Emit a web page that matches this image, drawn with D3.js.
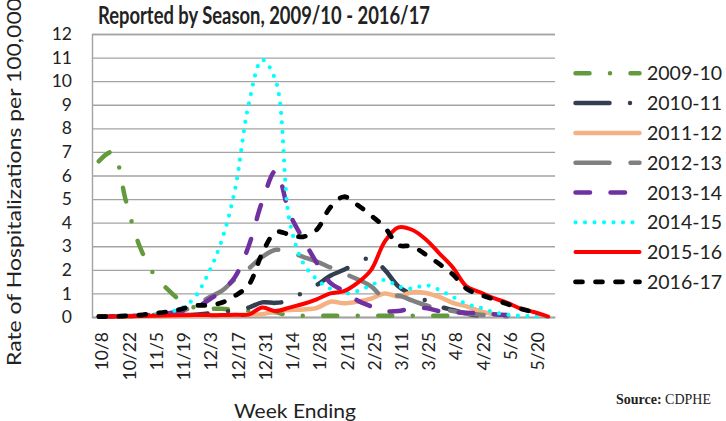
<!DOCTYPE html>
<html>
<head>
<meta charset="utf-8">
<script src="https://cdn.jsdelivr.net/npm/d3@7"></script>
<style>
  body { margin: 0; background: #fff; }
  text { font-family: Lato, "Open Sans", sans-serif; fill: #222; }
</style>
</head>
<body>
<div id="viz-container"></div>
<script>
// week ending dates (x categories)
let weeks = ["10/8","10/15","10/22","10/29","11/5","11/12","11/19","11/26","12/3","12/10",
  "12/17","12/24","12/31","1/7","1/14","1/21","1/28","2/4","2/11","2/18",
  "2/25","3/4","3/11","3/18","3/25","4/1","4/8","4/15","4/22","4/29",
  "5/6","5/13","5/20","5/27"];

let seasons = ["2009-10","2010-11","2011-12","2012-13","2013-14","2014-15","2015-16","2016-17"];

let yTicks = [0,1,2,3,4,5,6,7,8,9,10,11,12];

// rate per 100,000 for each season
let s0910 = [6.6,7.0,4.9,3.0,1.85,1.2,0.7,0.4,0.35,0.35,0.3,0.25,0.2,0.2,0.05,0.05,0.05,0.05,0.05,0.05,0.05,0.05,0.05,0.05,0.05,0.05,0.05,0.05,null,null,null,null,null,null];
let s1011 = [0.02,0.02,0.03,0.04,0.05,0.06,0.08,0.1,0.15,0.2,0.3,0.4,0.62,0.6,0.7,1.05,1.35,1.75,2.0,2.3,2.5,2.0,1.3,0.95,0.7,0.45,0.3,0.15,0.05,0.02,null,null,null,null];
let s1112 = [0.02,0.02,0.02,0.03,0.03,0.04,0.05,0.05,0.06,0.07,0.08,0.1,0.12,0.25,0.3,0.32,0.38,0.65,0.58,0.65,0.78,1.0,0.87,1.05,1.02,0.85,0.6,0.45,0.25,0.12,0.05,null,null,null];
let s1213 = [0.02,0.03,0.04,0.05,0.08,0.12,0.25,0.45,0.8,1.1,1.6,2.05,2.55,2.85,2.75,2.55,2.35,2.1,1.85,1.6,1.3,0.8,0.9,0.7,0.5,0.35,0.25,0.15,0.1,0.05,0.03,null,null,null];
let s1314 = [0.02,0.03,0.04,0.06,0.1,0.15,0.25,0.35,0.7,1.1,1.7,3.0,4.9,6.2,4.4,3.3,2.3,1.45,1.1,0.7,0.45,0.25,0.25,0.38,0.38,0.25,0.2,0.18,0.15,0.12,0.08,0.05,null,null];
let s1415 = [0.02,0.03,0.04,0.06,0.1,0.2,0.35,0.8,1.8,3.2,5.4,9.0,10.9,10.0,4.1,2.3,1.6,1.2,1.0,1.1,1.35,1.57,1.3,1.2,1.35,1.15,0.85,0.55,0.4,0.2,0.1,0.05,0.02,0];
let s1516 = [0.02,0.02,0.03,0.04,0.05,0.06,0.07,0.08,0.08,0.08,0.1,0.1,0.4,0.25,0.4,0.55,0.75,1.0,1.1,1.45,2.0,3.2,3.8,3.7,3.3,2.7,2.1,1.3,1.05,0.8,0.6,0.35,0.2,0.02];
let s1617 = [0.02,0.02,0.05,0.08,0.15,0.22,0.33,0.48,0.5,0.6,0.9,1.35,2.7,3.6,3.5,3.4,3.7,4.65,5.1,4.75,4.3,3.8,3.05,3.0,2.65,2.25,1.8,1.2,0.95,0.75,0.55,0.35,0.2,null];

let allSeries = [s0910,s1011,s1112,s1213,s1314,s1415,s1516,s1617];

// line styles, same order as seasons
let styles = [
  {color:"#639a3d", dash:"14 20.5 0 20.5", width:4.5},
  {color:"#333f50", dash:"34 20.5 0 20.5", width:4.5},
  {color:"#f4b183", dash:null,             width:4.5},
  {color:"#808080", dash:"34 21",          width:4.5},
  {color:"#7030a0", dash:"14.5 20.5",      width:4.5},
  {color:"#00ffff", dash:"0 9.5",          width:4.2},
  {color:"#ff0000", dash:null,             width:4},
  {color:"#000000", dash:"7 13",           width:4.7}
];

let viz = d3.select("#viz-container")
  .append("svg")
    .attr("width",726)
    .attr("height",421);

let x = d3.scaleBand().domain(weeks).range([92,555]);
let y = d3.scaleLinear().domain([0,12]).range([317,34]);

function cx(d){
  return x(d) + x.bandwidth()/2;
}

// gridlines + y labels
let yAxis = viz.append("g")
  .attr("transform","translate(92,0)")
  .call(d3.axisLeft(y).tickValues(yTicks).tickSize(-463).tickPadding(20).tickFormat(d3.format("d")));
yAxis.selectAll(".tick line").attr("stroke","#a3a3a3").attr("stroke-width",1.4);
yAxis.select(".domain").attr("stroke","#a3a3a3").attr("stroke-width",1.4);
yAxis.selectAll("text")
  .attr("font-size",17.5)
  .attr("font-family","Lato")
  .attr("fill","#222");

// x axis
let xAxis = viz.append("g")
  .attr("transform","translate(0,317)")
  .call(d3.axisBottom(x).tickSize(0).tickFormat(function(d,i){ return i%2==0 ? d : ""; }));
xAxis.select(".domain").attr("stroke","#a3a3a3").attr("stroke-width",1.4);
xAxis.selectAll("text")
  .attr("transform","rotate(-90)")
  .attr("text-anchor","end")
  .attr("x",-15)
  .attr("y",0)
  .attr("dy",".55em")
  .attr("font-size",17.5)
  .attr("font-family","Lato")
  .attr("fill","#222");

// season lines
let line = d3.line()
  .defined(function(v){ return v != null; })
  .x(function(v,i){ return cx(weeks[i]); })
  .y(function(v){ return y(v); })
  .curve(d3.curveCatmullRom.alpha(0.5));

viz.selectAll(".season").data(allSeries).enter()
  .append("path")
    .attr("class","season")
    .attr("d",line)
    .attr("fill","none")
    .attr("stroke",function(d,i){ return styles[i].color; })
    .attr("stroke-width",function(d,i){ return styles[i].width; })
    .attr("stroke-dasharray",function(d,i){ return styles[i].dash; })
    .attr("stroke-linecap","round")
    .attr("stroke-linejoin","round");

// legend
let legend = viz.selectAll(".legend").data(seasons).enter()
  .append("g")
    .attr("class","legend")
    .attr("transform",function(d,i){ return "translate(0,"+(73.3+i*29.8)+")"; });

legend.append("line")
  .attr("x1",575.5)
  .attr("x2",639.5)
  .attr("stroke",function(d,i){ return styles[i].color; })
  .attr("stroke-width",function(d,i){ return styles[i].width; })
  .attr("stroke-dasharray",function(d,i){ return styles[i].dash; })
  .attr("stroke-linecap","round");

legend.append("text")
  .text(function(d){ return d; })
  .attr("x",647)
  .attr("y",7)
  .attr("font-size",19.5);

// titles
viz.append("text")
  .text("Reported by Season, 2009/10 - 2016/17")
  .attr("x",264)
  .attr("y",24)
  .attr("text-anchor","middle")
  .attr("font-size",25)
  .attr("font-weight","bold")
  .attr("textLength",332)
  .attr("lengthAdjust","spacingAndGlyphs");

viz.append("text")
  .text("Rate of Hospitalizations per 100,000")
  .attr("transform","translate(21,182) rotate(-90)")
  .attr("text-anchor","middle")
  .attr("font-size",20)
  .attr("textLength",368)
  .attr("lengthAdjust","spacingAndGlyphs");

viz.append("text")
  .text("Week Ending")
  .attr("x",295)
  .attr("y",418)
  .attr("text-anchor","middle")
  .attr("font-size",20)
  .attr("textLength",122)
  .attr("lengthAdjust","spacingAndGlyphs");

let src = viz.append("text")
  .attr("x",711)
  .attr("y",404)
  .attr("text-anchor","end")
  .attr("font-size",14)
  .style("font-family","'Liberation Serif', serif");
src.append("tspan").text("Source:").attr("font-weight","bold");
src.append("tspan").text(" CDPHE");
</script>
</body>
</html>
